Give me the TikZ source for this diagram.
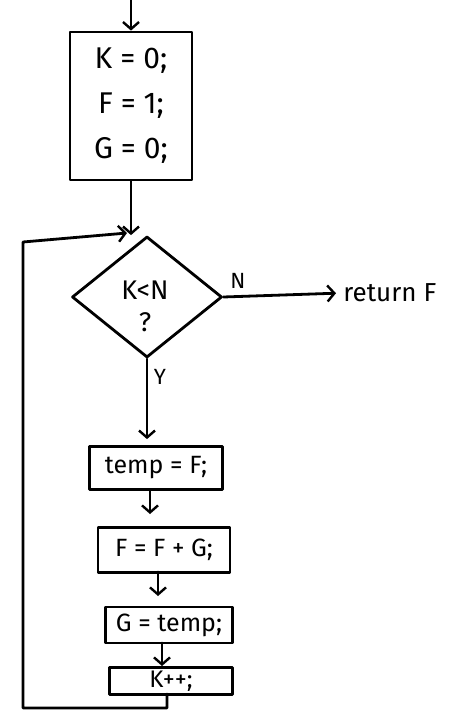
\documentclass[tikz,border=0pt]{standalone}
\usepackage{fontspec}
\setmainfont{Fira Sans}
\usetikzlibrary{arrows.meta,shapes.geometric,calc}
\begin{document}
\begin{tikzpicture}[x=1pt,y=-1pt,
  line width=2.8pt, line cap=round, line join=round,
  arr/.style={-{Straight Barb[length=7pt,width=16pt,line width=2.4pt]}},
  boxn/.style={draw, rectangle, inner sep=0pt, font=\fontsize{25}{28}\selectfont},
  lbl/.style={inner sep=0pt, font=\fontsize{22}{26}\selectfont}]
\useasboundingbox (0,0) rectangle (450,717);
% init box
\node[boxn, minimum width=122pt, minimum height=148pt, align=center,
      font=\fontsize{30}{45}\selectfont] (init) at (131,106) {K = 0;\\F = 1;\\G = 0;};
% decision
\node[draw, diamond, inner sep=0pt, minimum width=150pt, minimum height=121pt] (dec) at (147,297) {};
\node[lbl, align=center, font=\fontsize{27}{32}\selectfont] (dectext) at (145,306) {K<N\\?};
% return
\node[lbl, anchor=west, font=\fontsize{26}{28}\selectfont] (ret) at (342,293) {return F};
% boxes
\node[boxn, minimum width=133pt, minimum height=43pt] (temp) at (156,468) {temp = F;};
\node[boxn, minimum width=132pt, minimum height=45pt] (ffg) at (164,550) {F = F + G;};
\node[boxn, minimum width=127pt, minimum height=36pt] (gt) at (169,625) {G = temp;};
\node[boxn, minimum width=123pt, minimum height=27pt, font=\fontsize{24}{24}\selectfont] (kpp) at (171,681) {K++;};
% labels
\node[lbl] (nl) at (238,281) {N};
\node[lbl] (yl) at (160,377) {Y};
% connector end points
\coordinate (start) at (131,0);
\coordinate (a1) at (150,490);
\coordinate (a1e) at (150,514);
\coordinate (a2) at (158,572);
\coordinate (a2e) at (158,596);
\coordinate (a3) at (162,643);
\coordinate (a3e) at (162,666);
\coordinate (lp0) at (167,694);
\coordinate (lp0b) at (167,708);
\coordinate (lp1) at (23,708);
\coordinate (lp2) at (23,242);
\coordinate (lpend) at (127,233);
% entry
\draw[arr] (start) -- (init.north);
\draw[arr] (init.south) -- (init.south |- dec.north);
% N branch
\draw[arr, shorten >=6pt] (dec.east) -- (ret.west);
% Y branch
\draw[arr, shorten >=6pt] (dec.south) -- (dec.south |- temp.north);
% chain
\draw[arr] (a1) -- (a1e);
\draw[arr] (a2) -- (a2e);
\draw[arr] (a3) -- (a3e);
% loop back
\draw[arr] (lp0) -- (lp0b) -- (lp1) -- (lp2) -- (lpend);
\end{tikzpicture}
\end{document}
